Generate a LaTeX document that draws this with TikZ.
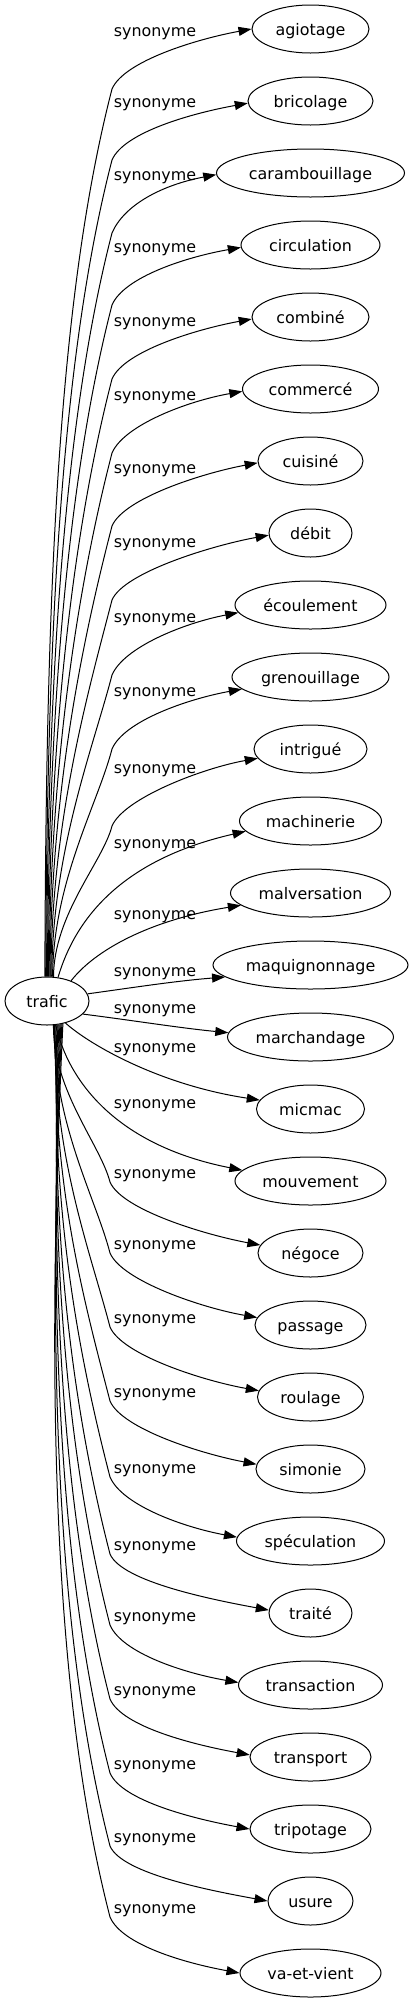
\documentclass[tikz,border=0pt]{standalone}
\usepackage{fontspec}
\setmainfont{DejaVu Sans}
\usetikzlibrary{arrows.meta,calc,shapes.geometric}
\begin{document}
\begin{tikzpicture}[x=1pt,y=-1pt,
  wnode/.style={draw,ellipse,line width=1pt,inner sep=0pt,minimum height=48pt,
    text height=15pt,text depth=3pt,font=\fontsize{15.9}{19}\selectfont},
  edge/.style={line width=1pt,-{Triangle[length=13pt,width=9pt]}},
  lbl/.style={inner sep=0pt,anchor=base,font=\fontsize{15.9}{19}\selectfont}]
\useasboundingbox (0,0) rectangle (413,2003);
\node[wnode,minimum width=84pt] (trafic) at (47,1001) {trafic};
\foreach \i/\txt/\w in {0/agiotage/117,1/bricolage/125,2/carambouillage/188,
  3/circulation/139,4/combiné/117,5/commercé/136,6/cuisiné/105,7/débit/83,
  8/écoulement/151,9/grenouillage/157,10/intrigué/113,11/machinerie/142,
  12/malversation/160,13/maquignonnage/195,14/marchandage/166,15/micmac/108,
  16/mouvement/151,17/négoce/105,18/passage/111,19/roulage/106,20/simonie/109,
  21/spéculation/148,22/traité/83,23/transaction/144,24/transport/121,
  25/tripotage/121,26/usure/85,27/va-et-vient/141}{
  \pgfmathsetmacro\ny{29+72*\i}
  \node[wnode,minimum width=\w pt] (n\i) at (310.5,\ny) {\txt};
}
% upper edges
\foreach \i/\lab/\dd/\w in {0/31/0/117,1/102/2/125,2/175/2/188,3/247/2/139,
  4/321/2/117,5/395/2/136,6/468/2/105,7/542/2/83,8/617/8/151,9/691/12/157,
  10/768/9/113}{
  \pgfmathsetmacro\By{\lab+58}
  \pgfmathsetmacro\DD{977-\By}
  \pgfmathtruncatemacro\sa{95-2*\i}
  \pgfmathsetmacro\cax{46+0.8*\i}
  \pgfmathsetmacro\cay{977-0.42*\DD}
  \pgfmathsetmacro\cbx{112-0.062*\DD}
  \pgfmathsetmacro\cby{\By+0.24*\DD}
  \pgfmathsetmacro\xo{(\w/2)*sqrt(1-(\dd/24)^2)}
  \pgfmathtruncatemacro\ea{round(180+atan2(\dd,\xo))}
  \pgfmathsetmacro\tx{310.5-\xo}
  \pgfmathsetmacro\ty{29+72*\i+\dd}
  \pgfmathsetmacro\ccy{\By-28}
  \pgfmathsetmacro\cdx{\tx-55}
  \pgfmathsetmacro\cdy{\ty+10}
  \pgfmathsetmacro\ly{\lab+5.5}
  \coordinate (b\i) at (112,\By);
  \draw[edge] (trafic.\sa) .. controls (\cax,\cay) and (\cbx,\cby) .. (b\i)
    .. controls (124,\ccy) and (\cdx,\cdy) .. (n\i.\ea);
  \node[lbl] (l\i) at (155,\ly) {synonyme};
}
% middle edges
\foreach \i/\lab/\sa/\cax/\cay/\cbx/\cby/\dd/\w in {
  11/843/65/75/920/120/860/10/142,
  12/914/40/95/950/150/920/12/160,
  13/971/10/130/988/175/981/12/195,
  14/1008/340/130/1020/180/1028/-4/166,
  15/1047/310/90/1045/160/1085/-9/108,
  16/1103/290/68/1080/115/1145/-11/151}{
  \pgfmathsetmacro\xo{(\w/2)*sqrt(1-(\dd/24)^2)}
  \pgfmathtruncatemacro\ea{round(180+atan2(\dd,\xo))}
  \pgfmathsetmacro\ly{\lab+5.5}
  \draw[edge] (trafic.\sa) .. controls (\cax,\cay) and (\cbx,\cby) .. (n\i.\ea);
  \node[lbl] (l\i) at (155,\ly) {synonyme};
}
% lower edges
\foreach \i/\lab/\dd/\w in {17/1173/-8/105,18/1244/-7/111,19/1318/-6/106,
  20/1392/-5/109,21/1468/-4/148,22/1545/-3/83,23/1616/-2/144,24/1690/-2/121,
  25/1764/0/121,26/1837/0/85,27/1908/0/141}{
  \pgfmathsetmacro\By{\lab+9}
  \pgfmathsetmacro\DD{\By-1025}
  \pgfmathtruncatemacro\sa{285+2*(\i-17)}
  \pgfmathsetmacro\cax{53-0.8*(\i-17)}
  \pgfmathsetmacro\cay{1025+0.42*\DD}
  \pgfmathsetmacro\cbx{110-0.062*\DD}
  \pgfmathsetmacro\cby{\By-0.24*\DD}
  \pgfmathsetmacro\xo{(\w/2)*sqrt(1-(\dd/24)^2)}
  \pgfmathtruncatemacro\ea{round(180+atan2(\dd,\xo))}
  \pgfmathsetmacro\tx{310.5-\xo}
  \pgfmathsetmacro\ty{29+72*\i+\dd}
  \pgfmathsetmacro\ccy{\By+28}
  \pgfmathsetmacro\cdx{\tx-55}
  \pgfmathsetmacro\cdy{\ty-10}
  \pgfmathsetmacro\ly{\lab+5.5}
  \coordinate (b\i) at (110,\By);
  \draw[edge] (trafic.\sa) .. controls (\cax,\cay) and (\cbx,\cby) .. (b\i)
    .. controls (122,\ccy) and (\cdx,\cdy) .. (n\i.\ea);
  \node[lbl] (l\i) at (155,\ly) {synonyme};
}
\end{tikzpicture}
\end{document}
